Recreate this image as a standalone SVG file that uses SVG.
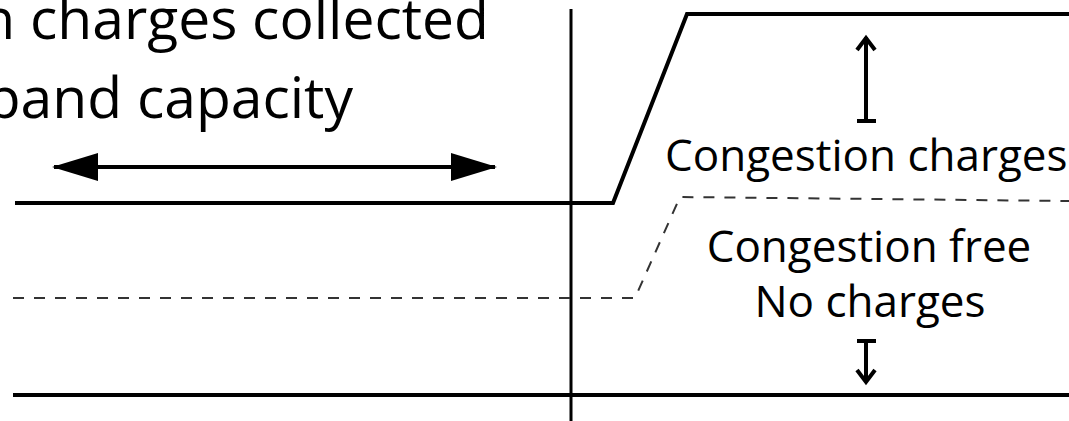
<svg xmlns="http://www.w3.org/2000/svg" width="1069" height="421" viewBox="0 0 1069 421">
<defs>
<style>
.t{font-family:"Open Sans","Liberation Sans",sans-serif;fill:#000}
.big{font-size:57px}
.lbl{font-size:44px}
.solid{fill:none;stroke:#000;stroke-width:4}
.dash{fill:none;stroke:#333;stroke-width:2;stroke-dasharray:11 10}
.ax{fill:none;stroke:#000;stroke-width:3}
.arr{fill:none;stroke:#000;stroke-width:4}
</style>
<marker id="tri" viewBox="0 0 46 28" refX="44" refY="14" markerWidth="46" markerHeight="28" markerUnits="userSpaceOnUse" orient="auto-start-reverse">
<path d="M0,0 L46,14 L0,28 Z" fill="#000"/>
</marker>
</defs>
<rect width="1069" height="421" fill="#fff"/>
<g id="title">
<text class="t big" x="489" y="39" text-anchor="end">n charges collected</text>
<text class="t big" x="353" y="118" text-anchor="end">pand capacity</text>
</g>
<g id="labels">
<text class="t lbl" x="665" y="171">Congestion charges</text>
<text class="t lbl" x="869" y="262" text-anchor="middle">Congestion free</text>
<text class="t lbl" x="870" y="317" text-anchor="middle">No charges</text>
</g>
<g id="connectors">
<line class="ax" x1="571" y1="9" x2="571" y2="421"/>
<polyline class="solid" points="15,203 613,203 687,14 1069,14"/>
<polyline class="dash" points="13,298 635,298 680,197 1069,201"/>
<line class="solid" x1="13" y1="395" x2="1069" y2="395"/>
<line class="arr" x1="54" y1="167" x2="495" y2="167" marker-start="url(#tri)" marker-end="url(#tri)"/>
<line class="arr" x1="866" y1="37" x2="866" y2="121"/>
<polyline class="arr" points="857,50 866,38 875,50"/>
<line class="arr" x1="857" y1="121" x2="876" y2="121"/>
<line class="arr" x1="866" y1="341" x2="866" y2="382"/>
<polyline class="arr" points="857,370 866,382 875,370"/>
<line class="arr" x1="857" y1="341" x2="876" y2="341"/>
</g>
</svg>
